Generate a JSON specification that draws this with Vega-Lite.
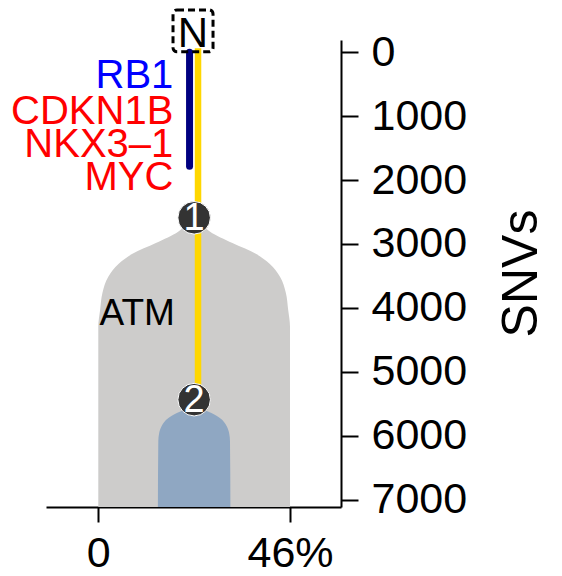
{
  "$schema": "https://vega.github.io/schema/vega-lite/v6.json",
  "width": 295,
  "height": 467,
  "autosize": {"type": "none"},
  "padding": {"left": 46, "top": 40, "right": 221, "bottom": 69},
  "background": "white",
  "config": {
    "view": {"stroke": null},
    "font": "Liberation Sans",
    "axis": {
      "grid": false,
      "domainColor": "black",
      "domainWidth": 2,
      "tickColor": "black",
      "tickWidth": 2,
      "labelColor": "black",
      "labelFont": "Liberation Sans",
      "titleFont": "Liberation Sans",
      "labelFlush": false,
      "labelOverlap": false
    }
  },
  "datasets": {
    "gray": [
      {"y": 2591, "x1": 21.8, "x2": 24.2},
      {"y": 2809, "x1": 19.16, "x2": 26.84},
      {"y": 2986, "x1": 13.81, "x2": 32.19},
      {"y": 3154, "x1": 8.2, "x2": 37.8},
      {"y": 3310, "x1": 4.9, "x2": 41.1},
      {"y": 3513, "x1": 2.4, "x2": 43.6},
      {"y": 3764, "x1": 1.0, "x2": 45.0},
      {"y": 4030, "x1": 0.44, "x2": 45.56},
      {"y": 4296, "x1": 0, "x2": 46},
      {"y": 7115, "x1": 0, "x2": 46}
    ],
    "blue": [
      {"y": 5560, "x1": 21.8, "x2": 24.2},
      {"y": 5593, "x1": 20.6, "x2": 25.4},
      {"y": 5644, "x1": 18.85, "x2": 27.15},
      {"y": 5722, "x1": 16.83, "x2": 29.17},
      {"y": 5854, "x1": 15.15, "x2": 30.85},
      {"y": 5960, "x1": 14.6, "x2": 31.4},
      {"y": 6088, "x1": 14.4, "x2": 31.6},
      {"y": 7115, "x1": 14.3, "x2": 31.7}
    ],
    "lines": [
      {"branch": "trunk", "x": 23.93, "y": -60, "y2": 5436},
      {"branch": "bar", "x": 21.9, "y": 0, "y2": 1785}
    ],
    "nodes": [
      {"label": "1", "x": 23, "y": 2591},
      {"label": "2", "x": 23, "y": 5436}
    ],
    "genes": [
      {"gene": "RB1", "group": "g1", "x": 18.0, "y": 563},
      {"gene": "CDKN1B", "group": "g2", "x": 18.0, "y": 1120},
      {"gene": "NKX3–1", "group": "g2", "x": 18.0, "y": 1640},
      {"gene": "MYC", "group": "g2", "x": 18.0, "y": 2153}
    ],
    "subclone": [
      {"gene": "ATM", "x": 0.3, "y": 4264}
    ],
    "normal": [
      {"label": "N", "x1": 17.93, "x2": 27.53, "xc": 22.73, "y1": -661, "y2": -5, "yt": -88}
    ]
  },
  "layer": [
    {
      "data": {"name": "gray"},
      "mark": {"type": "area", "orient": "horizontal", "color": "#cdcccb", "interpolate": "monotone"},
      "encoding": {
        "y": {"field": "y", "type": "quantitative", "scale": {"domain": [-190, 7115], "reverse": true, "nice": false, "zero": false},
          "axis": {"orient": "right", "values": [0, 1000, 2000, 3000, 4000, 5000, 6000, 7000], "format": "d", "labelFontSize": 43, "tickSize": 17, "labelPadding": 13,
            "title": "SNVs", "titleFontSize": 50, "titleFontWeight": "normal", "titleColor": "black", "titleAngle": 270, "titleX": 180, "titleY": 233, "titleAlign": "center", "titleBaseline": "middle"}},
        "x": {"field": "x1", "type": "quantitative", "scale": {"domain": [-12.55, 58.24], "nice": false, "zero": false},
          "axis": {"values": [0, 46], "labelExpr": "datum.value == 46 ? '46%' : '0'", "labelFontSize": 43, "tickSize": 15, "labelPadding": 10, "title": null}},
        "x2": {"field": "x2"}
      }
    },
    {
      "data": {"name": "blue"},
      "mark": {"type": "area", "orient": "horizontal", "color": "#8fa7c2", "interpolate": "monotone"},
      "encoding": {
        "y": {"field": "y", "type": "quantitative", "scale": {"domain": [-190, 7115], "reverse": true, "nice": false, "zero": false}},
        "x": {"field": "x1", "type": "quantitative", "scale": {"domain": [-12.55, 58.24], "nice": false, "zero": false}},
        "x2": {"field": "x2"}
      }
    },
    {
      "data": {"name": "lines"},
      "transform": [{"filter": "datum.branch == 'trunk'"}],
      "mark": {"type": "rule", "color": "#ffd700", "strokeWidth": 6.5, "strokeCap": "butt"},
      "encoding": {
        "x": {"field": "x", "type": "quantitative"},
        "y": {"field": "y", "type": "quantitative"},
        "y2": {"field": "y2"}
      }
    },
    {
      "data": {"name": "lines"},
      "transform": [{"filter": "datum.branch == 'bar'"}],
      "mark": {"type": "rule", "color": "#000080", "strokeWidth": 7, "strokeCap": "round"},
      "encoding": {
        "x": {"field": "x", "type": "quantitative"},
        "y": {"field": "y", "type": "quantitative"},
        "y2": {"field": "y2"}
      }
    },
    {
      "data": {"name": "nodes"},
      "mark": {"type": "point", "shape": "circle", "filled": true, "size": 1060, "fill": "#333333", "stroke": "white", "strokeWidth": 1, "opacity": 1},
      "encoding": {
        "x": {"field": "x", "type": "quantitative"},
        "y": {"field": "y", "type": "quantitative"}
      }
    },
    {
      "data": {"name": "nodes"},
      "mark": {"type": "text", "color": "white", "fontSize": 38, "align": "center", "baseline": "middle", "dy": 1},
      "encoding": {
        "x": {"field": "x", "type": "quantitative"},
        "y": {"field": "y", "type": "quantitative"},
        "text": {"field": "label"}
      }
    },
    {
      "data": {"name": "genes"},
      "mark": {"type": "text", "fontSize": 40, "align": "right", "baseline": "alphabetic"},
      "encoding": {
        "x": {"field": "x", "type": "quantitative"},
        "y": {"field": "y", "type": "quantitative"},
        "text": {"field": "gene"},
        "color": {"field": "group", "type": "nominal", "scale": {"domain": ["g1", "g2"], "range": ["#0000ff", "#ff0000"]}, "legend": null}
      }
    },
    {
      "data": {"name": "subclone"},
      "mark": {"type": "text", "fontSize": 37, "align": "left", "baseline": "alphabetic", "color": "black"},
      "encoding": {
        "x": {"field": "x", "type": "quantitative"},
        "y": {"field": "y", "type": "quantitative"},
        "text": {"field": "gene"}
      }
    },
    {
      "data": {"name": "normal"},
      "mark": {"type": "rect", "fill": null, "fillOpacity": 0, "stroke": "black", "strokeWidth": 3, "strokeDash": [7, 4], "cornerRadius": 4},
      "encoding": {
        "x": {"field": "x1", "type": "quantitative"},
        "x2": {"field": "x2"},
        "y": {"field": "y1", "type": "quantitative"},
        "y2": {"field": "y2"}
      }
    },
    {
      "data": {"name": "normal"},
      "mark": {"type": "text", "fontSize": 42, "align": "center", "baseline": "alphabetic", "color": "black"},
      "encoding": {
        "x": {"field": "xc", "type": "quantitative"},
        "y": {"field": "yt", "type": "quantitative"},
        "text": {"field": "label"}
      }
    }
  ]
}
